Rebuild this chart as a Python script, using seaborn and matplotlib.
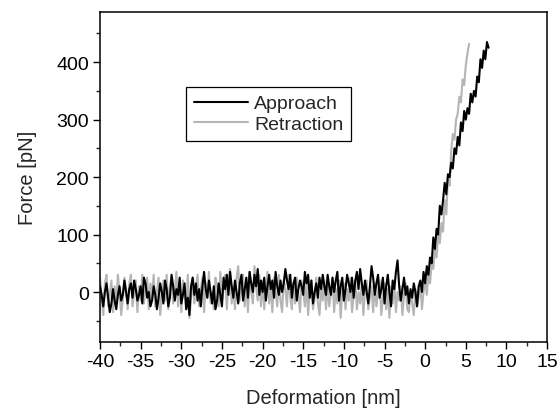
import numpy as np
import pandas as pd
import matplotlib
matplotlib.use("Agg")
import matplotlib.pyplot as plt
import seaborn as sns
from matplotlib.ticker import MultipleLocator

# Sampling grid (nm): first point and spacing of the recorded traces
x_start = -40.0
x_step = 0.2

approach_force = [
    10, -5, -25, 0, 15, -10, -35, -20, 5, -15,
    -30, -5, 10, -15, -5, 20, 0, -20, 5, 15,
    -10, 20, 5, -15, -5, 10, -20, 25, 15, -10,
    0, -25, -15, 10, -5, -30, -10, 15, 0, -20,
    20, 5, -25, -10, 30, 10, -15, 5, -5, 25,
    -20, -5, 15, -30, -10, -40, 10, 25, -5, 15,
    -15, 5, -25, 10, 35, 5, -10, 20, 0, -20,
    10, -30, -15, 15, -5, -25, 25, 5, 30, -5,
    35, 10, -10, 20, 0, -20, 15, 30, -15, 5,
    25, -10, 35, 15, 0, 30, 10, 40, -5, 20,
    0, 25, -15, 10, 30, 5, 20, -10, 35, 10,
    -5, 20, 0, 15, 40, 20, 5, 30, -10, 15,
    25, -15, 5, 20, 10, -5, 35, 15, 30, -10,
    20, -20, 0, 15, -10, 25, 5, 30, 10, -5,
    30, 10, -5, 25, 0, 20, 35, -15, 10, 25,
    -15, 5, 30, 15, 0, 25, -10, 20, 35, 5,
    40, 15, -5, 20, 0, -20, 10, 45, 25, -5,
    15, 30, -10, 5, 25, -20, 10, 30, 0, -25,
    20, 5, 35, 55, 10, -15, 5, 25, -5, 10,
    -20, 5, -10, 15, 0, -25, 10, 20, 0, 35,
    15, 45, 30, 60, 50, 95, 75, 110, 100, 150,
    135, 160, 190, 170, 205, 200, 225, 215, 250, 240,
    270, 255, 295, 280, 315, 300, 320, 310, 345, 330,
    350, 340, 375, 365, 405, 390, 420, 405, 435, 425,
]

retraction_force = [
    25, -10, -40, 15, 30, -25, -5, 20, -35, 10,
    -20, 30, 0, -40, -15, 25, 5, -30, 15, 30,
    -25, 0, 20, -35, 10, -15, 30, -20, 5, 25,
    -30, 15, -10, 30, -25, 0, 25, -40, -5, 20,
    -15, 30, -30, 10, 25, -20, 0, 35, -25, 15,
    -35, 20, 5, -30, 30, -45, -10, 25, -20, 10,
    30, -25, 5, 25, -35, 15, -10, 35, -20, 0,
    -30, 25, 10, -25, 35, -15, 5, 30, -30, 20,
    40, -20, 10, -30, 25, 45, -15, 5, 30, -25,
    15, -35, 35, 0, -20, 45, 10, -15, 30, -25,
    20, -30, 5, 35, -20, 10, -35, 25, 0, -25,
    30, -15, -35, 20, 5, -25, 30, -10, -30, 15,
    -20, 25, -5, -35, 20, 0, -25, 15, -40, 5,
    20, -30, -10, 25, -20, -40, 10, -15, 20, -30,
    15, -25, -5, 25, -35, 5, -20, 20, -45, 0,
    15, -30, 5, -15, 25, -35, -5, 20, -30, 0,
    -20, 15, -40, 5, 20, -30, -10, 10, -35, 15,
    -25, 0, 20, -40, -10, 15, -30, 5, -45, 10,
    -20, 15, -35, 0, -15, 10, -40, -5, 15, -30,
    -35, 0, -20, -40, 5, -25, -10, 15, -30, 0,
    20, -5, 35, 15, 50, 40, 75, 60, 100, 85,
    120, 105, 160, 135, 200, 185, 245, 275, 265, 300,
    310, 340, 330, 370, 360, 395, 415, 432,
]

x_ticks = [-40, -35, -30, -25, -20, -15, -10, -5, 0, 5, 10, 15]
y_ticks = [0, 100, 200, 300, 400]

approach = pd.DataFrame({
    "Deformation": np.round(x_start + x_step * np.arange(len(approach_force)), 2),
    "Force": approach_force,
})
retraction = pd.DataFrame({
    "Deformation": np.round(x_start + x_step * np.arange(len(retraction_force)), 2),
    "Force": retraction_force,
})

sns.set_style("white")
plt.rcParams["font.family"] = ["Liberation Sans", "DejaVu Sans"]

fig = plt.figure(figsize=(5.6, 4.1), dpi=100)
ax = fig.add_axes([0.1786, 0.1634, 0.7984, 0.8046])

sns.lineplot(data=retraction, x="Deformation", y="Force", ax=ax,
             color="#b5b5b5", lw=1.5, label="Retraction", sort=False)
sns.lineplot(data=approach, x="Deformation", y="Force", ax=ax,
             color="black", lw=1.5, label="Approach", sort=False)

ax.set_xlim(-40, 15)
ax.set_ylim(-87, 487)
ax.set_xticks(x_ticks)
ax.set_xticklabels([str(t) for t in x_ticks])
ax.set_yticks(y_ticks)
ax.xaxis.set_minor_locator(MultipleLocator(2.5))
ax.yaxis.set_minor_locator(MultipleLocator(50))
ax.tick_params(which="major", direction="out", length=5, width=1,
               labelsize=14, colors="black", bottom=True, left=True, pad=3)
ax.tick_params(which="minor", direction="out", length=3, width=1,
               bottom=True, left=True)
for s in ax.spines.values():
    s.set_color("black")
    s.set_linewidth(1.1)

ax.set_xlabel("Deformation [nm]", fontsize=14.5, labelpad=13)
ax.set_ylabel("Force [pN]", fontsize=14.5, labelpad=14)

h, l = ax.get_legend_handles_labels()
order = [l.index("Approach"), l.index("Retraction")]
leg = ax.legend([h[i] for i in order], [l[i] for i in order],
                loc="upper left", bbox_to_anchor=(0.192, 0.773),
                borderaxespad=0, fancybox=False, framealpha=1,
                edgecolor="black", fontsize=14, handlelength=2.8,
                handletextpad=0.3, labelspacing=0.15, borderpad=0.4)
leg.get_frame().set_linewidth(0.9)

fig.savefig("out.png", dpi=100)
